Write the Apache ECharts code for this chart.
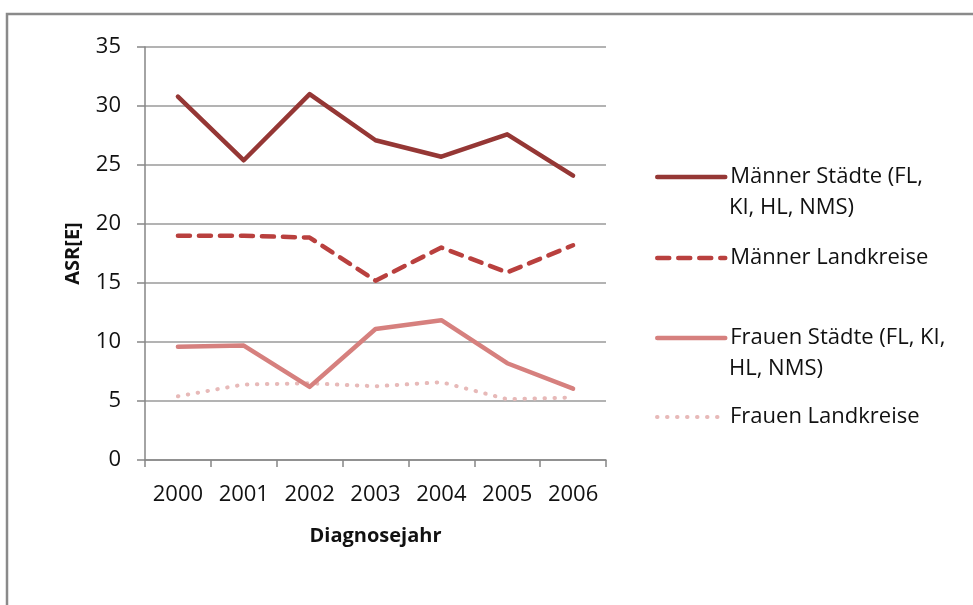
<!DOCTYPE html>
<html>
<head>
<meta charset="utf-8">
<script src="https://cdn.jsdelivr.net/npm/echarts@6/dist/echarts.min.js"></script>
<style>
  html, body { margin: 0; padding: 0; background: #fff; }
  #chart { width: 973px; height: 605px; }
</style>
</head>
<body>
<div id="chart"></div>
<script>
// Diagnosis years on the category axis
const years = ['2000', '2001', '2002', '2003', '2004', '2005', '2006'];

// Age-standardised rates, ASR[E]
const maennerStaedte = [30.8, 25.4, 31.0, 27.1, 25.7, 27.6, 24.1];
const maennerLandkreise = [19.0, 19.0, 18.85, 15.2, 18.0, 15.9, 18.2];
const frauenStaedte = [9.6, 9.7, 6.2, 11.1, 11.85, 8.2, 6.05];
const frauenLandkreise = [5.4, 6.4, 6.5, 6.25, 6.6, 5.15, 5.3];

// Y axis ticks
const yTicks = [0, 5, 10, 15, 20, 25, 30, 35];

// Series names; legend entries that wrap are split into lines
const names = [
  ['Männer Städte (FL,', 'KI, HL, NMS)'],
  ['Männer Landkreise'],
  ['Frauen Städte (FL, KI,', 'HL, NMS)'],
  ['Frauen Landkreise']
];
const seriesName = parts => parts.join(' ');

const FONT = '"Open Sans", "DejaVu Sans", sans-serif';
const GRID_GRAY = '#9a9a9a';
const AXIS_GRAY = '#868686';

const colors = ['#953735', '#b9403e', '#d6807e', '#e7b9b8'];
const lineStyles = [
  { width: 4.5, type: 'solid', cap: 'round', join: 'round' },
  { width: 4.5, type: [12, 9], cap: 'round', join: 'round' },
  { width: 4.5, type: 'solid', cap: 'round', join: 'round' },
  { width: 4, type: [0.5, 9.5], cap: 'round', join: 'round' }
];
const values = [maennerStaedte, maennerLandkreise, frauenStaedte, frauenLandkreise];

// Legend layout: icon centre heights
const legendY = [176, 257, 337, 416];
const LEGEND_ITEM_H = 20;

const chart = echarts.init(document.getElementById('chart'), null, { renderer: 'canvas' });

const legends = names.map((parts, i) => ({
  show: true,
  data: [seriesName(parts)],
  orient: 'vertical',
  left: 655,
  top: legendY[i] - LEGEND_ITEM_H / 2,
  padding: 0,
  itemWidth: 68,
  itemHeight: LEGEND_ITEM_H,
  itemGap: 0,
  selectedMode: false,
  itemStyle: { opacity: 0 },
  lineStyle: {
    width: lineStyles[i].width,
    type: lineStyles[i].type,
    cap: 'round',
    color: colors[i],
    opacity: 1
  },
  formatter: () => parts[0],
  textStyle: {
    fontFamily: FONT,
    fontSize: 22,
    color: '#111',
    lineHeight: LEGEND_ITEM_H
  }
}));

// Continuation lines of wrapped legend entries
const legendExtra = [];
names.forEach((parts, i) => {
  if (parts.length > 1) {
    legendExtra.push({
      type: 'text',
      x: 729,
      y: legendY[i] + 32,
      style: {
        text: parts[1],
        font: '22px ' + FONT,
        fill: '#111',
        verticalAlign: 'middle'
      }
    });
  }
});

chart.setOption({
  animation: false,
  backgroundColor: '#fff',
  grid: { left: 145, right: 367, top: 47, bottom: 145, containLabel: false },
  legend: legends,
  graphic: [
    {
      type: 'polyline',
      shape: { points: [[7, 620], [7, 14], [990, 14]] },
      style: { stroke: '#8a8a8a', lineWidth: 2.5, fill: null },
      silent: true
    }
  ].concat(legendExtra),
  xAxis: {
    type: 'category',
    data: years,
    boundaryGap: true,
    name: 'Diagnosejahr',
    nameLocation: 'middle',
    nameGap: 66,
    nameTextStyle: { fontFamily: FONT, fontSize: 20, fontWeight: 'bold', color: '#111' },
    axisLine: { lineStyle: { color: AXIS_GRAY, width: 1.5 } },
    axisTick: { show: true, inside: false, length: 7, alignWithLabel: false, lineStyle: { color: AXIS_GRAY, width: 1.5 } },
    axisLabel: { fontFamily: FONT, fontSize: 22, color: '#111', margin: 24, interval: 0 },
    splitLine: { show: false }
  },
  yAxis: {
    type: 'value',
    min: yTicks[0],
    max: yTicks[yTicks.length - 1],
    interval: yTicks[1] - yTicks[0],
    name: 'ASR[E]',
    nameLocation: 'middle',
    nameGap: 62,
    nameRotate: 90,
    nameTextStyle: { fontFamily: FONT, fontSize: 20, fontWeight: 'bold', color: '#111' },
    axisLine: { show: true, lineStyle: { color: AXIS_GRAY, width: 1.5 } },
    axisTick: { show: true, inside: false, length: 8, lineStyle: { color: AXIS_GRAY, width: 1.5 } },
    axisLabel: { fontFamily: FONT, fontSize: 22, color: '#111', margin: 24 },
    splitLine: { show: true, lineStyle: { color: GRID_GRAY, width: 1.5 } }
  },
  series: names.map((parts, i) => ({
    name: seriesName(parts),
    type: 'line',
    data: values[i],
    showSymbol: false,
    symbol: 'none',
    smooth: false,
    color: colors[i],
    lineStyle: Object.assign({ color: colors[i] }, lineStyles[i]),
    z: 10 - i
  }))
});
</script>
</body>
</html>
